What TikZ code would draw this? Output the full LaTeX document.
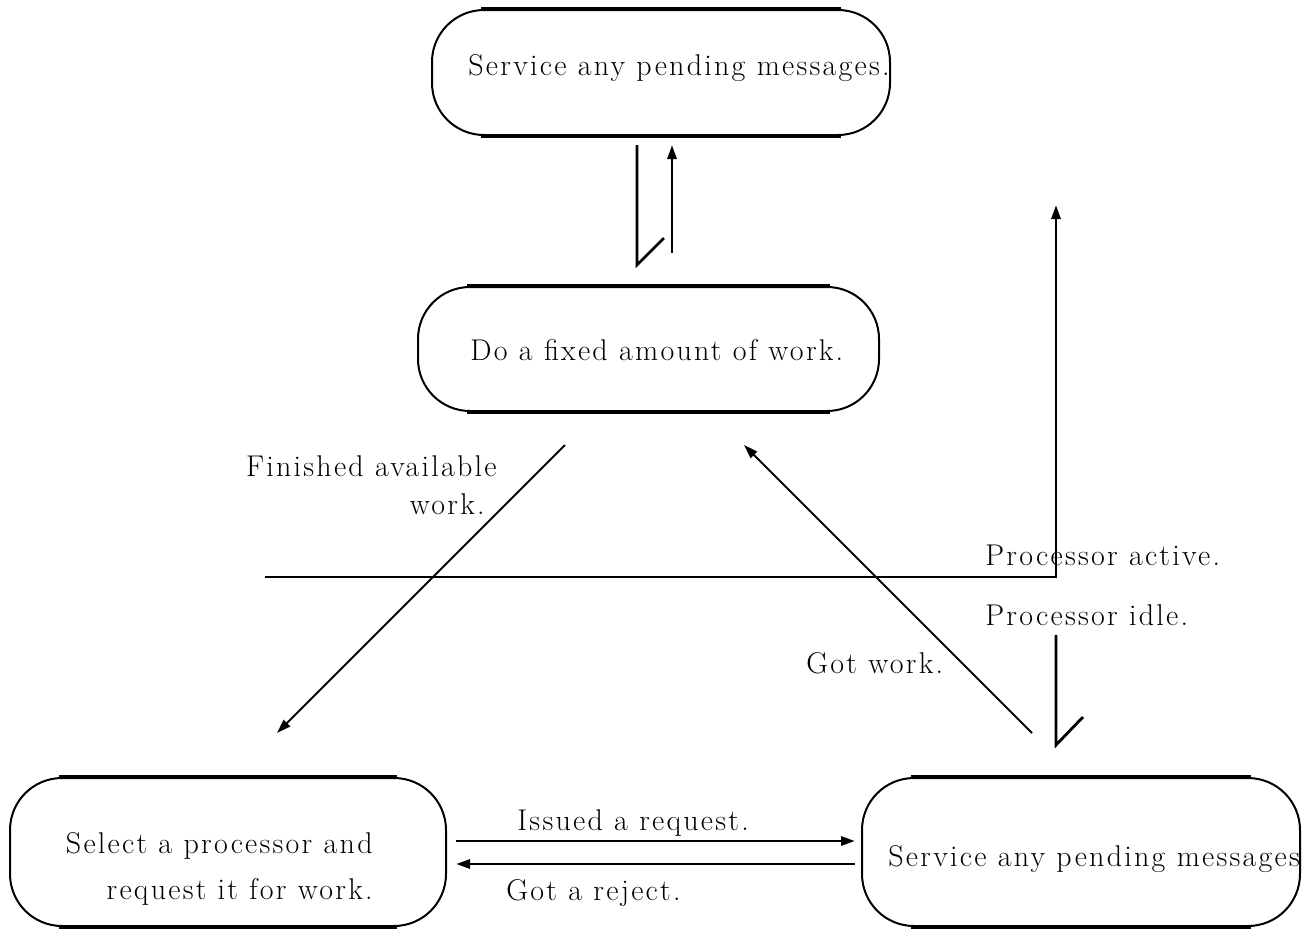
\documentclass[tikz,border=0pt]{standalone}
\usepackage{fontspec}
\setmainfont{Latin Modern Roman}[LetterSpace=7.5]
\usetikzlibrary{arrows.meta}
\begin{document}
\begin{tikzpicture}[x=0.5pt,y=-0.5pt,
  box/.style={draw,line width=1pt,rounded corners=26pt,inner sep=0pt},
  edge/.style={line width=1.8pt},
  lbl/.style={inner sep=0pt,font=\fontsize{15}{18}\selectfont},
  arr/.style={line width=1.4pt,-{Triangle[length=7pt,width=4.5pt]}},
  darr/.style={line width=1pt,-{Triangle[length=7pt,width=4.5pt]}},
  plain/.style={line width=1.4pt}]
\useasboundingbox (0,0) rectangle (1313,928);
% boxes
\node[box,minimum width=229pt,minimum height=62.5pt] (b1) at (661,72.5) {};
\node[box,minimum width=230.5pt,minimum height=62pt] (b2) at (648.5,349) {};
\node[box,minimum width=218pt,minimum height=74pt] (b3) at (228,852) {};
\node[box,minimum width=219pt,minimum height=74pt] (b4) at (1081,852) {};
\foreach \b in {b1,b2,b3,b4}{
  \draw[edge] ([xshift=25pt]\b.north west) -- ([xshift=-25pt]\b.north east);
  \draw[edge] ([xshift=25pt]\b.south west) -- ([xshift=-25pt]\b.south east);
}
% texts
\node[lbl,anchor=base west] (t1) at (468,75) {Service any pending messages.};
\node[lbl,anchor=base west] (t2) at (470,360) {Do a fixed amount of work.};
\node[lbl,anchor=base east,align=right] (t3) at (373,899) {Select a processor and\\[5pt]request it for work.};
\node[lbl,anchor=base east,align=right] (l1) at (497,514) {Finished available\\[1pt]work.\hspace*{6pt}};
\node[lbl,anchor=base west] (t4) at (888,866) {Service any pending messages};
\node[lbl,anchor=base west] (l2) at (985,565) {Processor active.};
\node[lbl,anchor=base west] (l3) at (985,625) {Processor idle.};
\node[lbl,anchor=base west] (l4) at (806,673) {Got work.};
\node[lbl,anchor=base west] (l5) at (517,830) {Issued a request.};
\node[lbl,anchor=base west] (l6) at (506,900) {Got a reject.};
% coordinates
\coordinate (a1) at (637,145); \coordinate (a2) at (637,265); \coordinate (a3) at (664,238);
\coordinate (u1) at (672,253); \coordinate (u2) at (672,145);
\coordinate (r1) at (1056,577); \coordinate (r2) at (1056,205);
\coordinate (h1) at (265,577); \coordinate (h2) at (1057,577);
\coordinate (s1) at (1056,635); \coordinate (s2) at (1056,745); \coordinate (s3) at (1083,717);
\coordinate (d1) at (565,445); \coordinate (d2) at (277,733);
\coordinate (e1) at (1032,733); \coordinate (e2) at (744,445);
\coordinate (q1) at (456,841); \coordinate (q2) at (855,841);
\coordinate (j1) at (855,864); \coordinate (j2) at (456,864);
% connectors
\draw[plain] (a1) -- (a2) -- (a3);
\draw[arr] (u1) -- (u2);
\draw[arr] (r1) -- (r2);
\draw[plain] (h1) -- (h2);
\draw[plain] (s1) -- (s2) -- (s3);
\draw[darr] (d1) -- (d2);
\draw[darr] (e1) -- (e2);
\draw[arr] (q1) -- (q2);
\draw[arr] (j1) -- (j2);
\end{tikzpicture}
\end{document}
